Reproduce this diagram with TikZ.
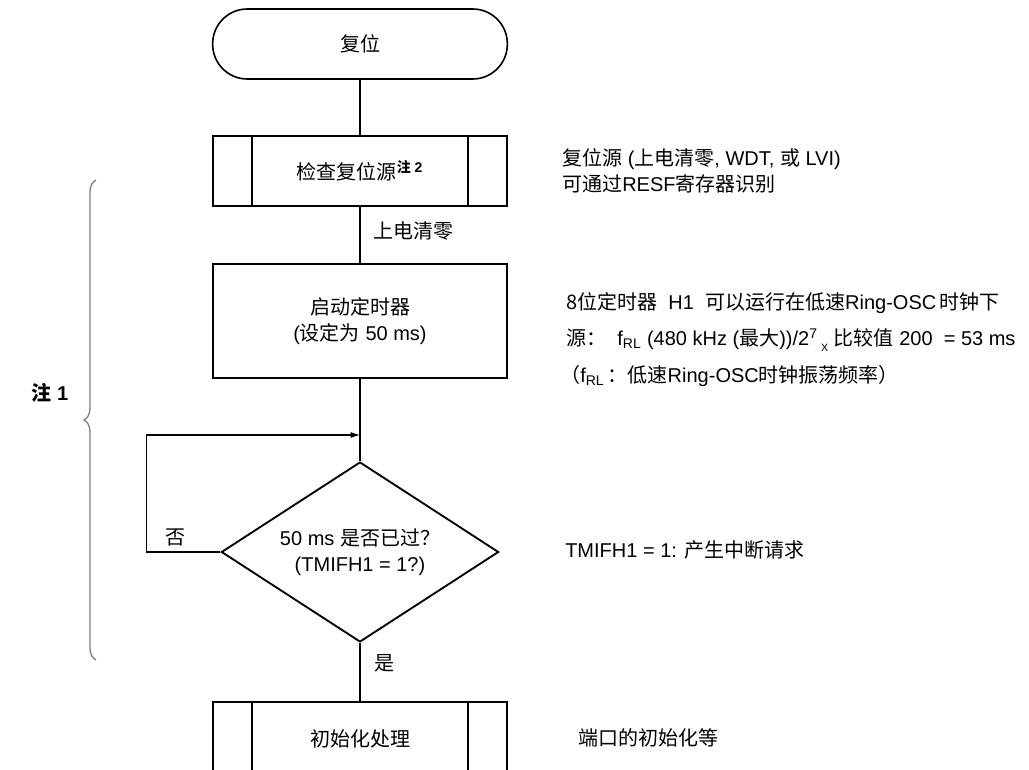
\documentclass[tikz,border=0pt]{standalone}
\usepackage{fontspec}
\setmainfont{Liberation Sans}
\newfontfamily\zhfont{Noto Sans CJK SC}
\newcommand{\zh}[1]{{\zhfont #1}}
\usetikzlibrary{arrows.meta,shapes.geometric,calc,decorations.pathreplacing}
\tikzset{
  txt/.style={font=\fontsize{15}{19.5}\selectfont},
  term/.style={txt,draw,line width=1.2pt,rounded corners=26pt,minimum width=221pt,minimum height=52.5pt,inner sep=0pt},
  proc/.style={txt,draw,line width=1.4pt,minimum width=221pt,inner sep=0pt,align=center},
  dec/.style={txt,draw,diamond,aspect=1.54,line width=1.4pt,minimum width=208pt,minimum height=135pt,inner sep=0pt,align=center},
  link/.style={line width=0.8pt},
  arr/.style={link,-{Latex[length=7pt,width=4.5pt]}},
  lbl/.style={txt,anchor=west,inner sep=0pt},
  note/.style={txt,anchor=west,inner sep=0pt,align=left},
  subbar/.style={line width=1.4pt},
  brc/.style={draw=gray,line width=1pt,decorate,decoration={brace,amplitude=9pt}},
}
\newcommand{\frl}{f\textsubscript{RL}}

\begin{document}
\begin{tikzpicture}[x=0.75pt,y=-0.75pt]
\useasboundingbox (0,0) rectangle (1029,770);
\clip (0,0) rectangle (1029,770);
% flow
\node[term] (start) at (360,44) {\zh{复位}};
\node[proc,minimum height=52.5pt] (chk) at (360,171) {\zh{检查复位源}\textsuperscript{\bfseries\zh{注} 2}};
\node[proc,minimum height=85.5pt] (tmr) at (360,321) {\zh{启动定时器}\\(\zh{设定为} 50 ms)};
\node[dec] (dec) at (360,552) {50 ms \zh{是否已过？}\\(TMIFH1 = 1?)};
\node[proc,minimum height=56pt] (ini) at (360,739) {\zh{初始化处理}};
\foreach \n in {chk,ini} {
  \draw[subbar] ($(\n.north west)+(40,0)$) -- ($(\n.south west)+(40,0)$);
  \draw[subbar] ($(\n.north east)+(-40,0)$) -- ($(\n.south east)+(-40,0)$);
}
\coordinate (back) at (360,435);
\draw[link] (start) -- (chk);
\draw[link] (chk) -- (tmr);
\draw[link] (tmr) -- (dec);
\draw[link] (dec) -- (ini);
\draw[arr] (dec.west) -- ++(-74,0) |- (back);
\node[lbl] (por) at (373,231) {\zh{上电清零}};
\node[lbl] (yes) at (374,663) {\zh{是}};
\node[lbl] (no) at (165,537) {\zh{否}};
% notes
\node[note] (n1) at (562,171) {\zh{复位源} (\zh{上电清零}, WDT, \zh{或} LVI)\\\zh{可通过}RESF\zh{寄存器识别}};
\node[note] (n2) at (566,303) {\zh{8位定时器}\ \ H1\ \ \zh{可以运行在低速}Ring-OSC\,\zh{时钟下}};
\node[note] (n3) at (566,340) {\zh{源：}\ \ \frl\ (480 kHz (\zh{最大}))/2\textsuperscript{7}\,\raisebox{-0.5ex}{\footnotesize X}\ \zh{比较值} 200\ \ = 53 ms};
\node[note] (n4) at (560,376) {\zh{（}\frl\,\zh{：低速}Ring-OSC\zh{时钟振荡频率）}};
\node[note] (n5) at (565,550) {TMIFH1 = 1: \zh{产生中断请求}};
\node[note] (n6) at (578,738) {\zh{端口的初始化等}};
% note 1 brace
\draw[brc] (96,660) -- (96,180);
\node[txt,font=\fontsize{15}{19.5}\selectfont\bfseries] (nt1) at (50,393) {\zh{注} 1};
\end{tikzpicture}
\end{document}
